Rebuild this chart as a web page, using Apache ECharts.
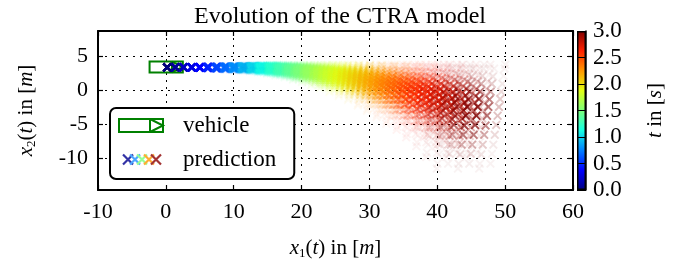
<!DOCTYPE html>
<html>
<head>
    <meta charset="utf-8" />
    <title>Evolution of the CTRA model</title>
    <script src="https://cdnjs.cloudflare.com/ajax/libs/echarts/6.0.0/echarts.min.js"></script>
    <style>
        body, html { margin: 0; padding: 0; background: #fff; }
        #chart { width: 681px; height: 268px; }
    </style>
</head>
<body>
<div id="chart"></div>
<script type="text/javascript">
    // time steps of the prediction [s]
    var tSteps = [0.0, 0.1, 0.2, 0.3, 0.4, 0.5, 0.6, 0.7, 0.8, 0.9, 1.0, 1.1, 1.2, 1.3, 1.4, 1.5,
                  1.6, 1.7, 1.8, 1.9, 2.0, 2.1, 2.2, 2.3, 2.4, 2.5, 2.6, 2.7, 2.8, 2.9, 3.0];
    // centre of the predicted cloud
    var meanX = [0.2, 1.4, 2.6, 3.8, 5.0, 6.2, 7.5, 8.8, 10.1, 11.5, 12.9, 14.2, 15.7, 17.1, 18.6, 20.0,
                 21.5, 23.1, 24.6, 26.2, 27.8, 29.4, 31.1, 32.7, 34.4, 36.1, 37.9, 39.6, 41.4, 43.2, 45.1];
    var midY = [3.4, 3.4, 3.4, 3.4, 3.4, 3.4, 3.4, 3.4, 3.4, 3.4, 3.4, 3.35, 3.3, 3.2, 3.1, 2.95,
                2.8, 2.6, 2.4, 2.15, 1.9, 1.6, 1.2, 0.8, 0.4, -0.1, -0.5, -1.0, -1.6, -2.3, -3.0];
    // spread of the cloud: above / below the centre and along the path
    var upSpread = [0, 0, 0.02, 0.04, 0.06, 0.1, 0.13, 0.16, 0.2, 0.25, 0.3, 0.4, 0.5, 0.6, 0.7, 0.85,
                    1.0, 1.2, 1.4, 1.65, 1.9, 2.2, 2.6, 3.0, 3.4, 3.9, 4.3, 4.8, 5.4, 6.1, 6.8];
    var downSpread = [0, 0.01, 0.03, 0.06, 0.1, 0.15, 0.22, 0.3, 0.38, 0.47, 0.57, 0.7, 0.85, 1.0, 1.2, 1.4,
                      1.6, 1.85, 2.1, 2.4, 2.7, 3.0, 3.4, 3.8, 4.3, 4.8, 5.3, 5.9, 6.6, 7.5, 8.5];
    var lonSpread = [0, 0, 0.02, 0.05, 0.08, 0.12, 0.17, 0.23, 0.3, 0.38, 0.47, 0.57, 0.68, 0.8, 0.93, 1.07,
                     1.22, 1.38, 1.55, 1.73, 1.92, 2.1, 2.3, 2.5, 2.7, 2.9, 3.1, 3.3, 3.5, 3.7, 3.9];
    // vehicle: centre x, centre y, length, width, nose length
    var vehicleX = [0.05];
    var vehicleY = [3.45];
    var vehicleLen = [4.9];
    var vehicleWid = [1.6];
    var vehicleNose = [1.6];

    var xTicks = [-10, 0, 10, 20, 30, 40, 50, 60];
    var yTicks = [-10, -5, 0, 5];
    var cbTicks = [0.0, 0.5, 1.0, 1.5, 2.0, 2.5, 3.0];

    var jet = ['#000080', '#0000ff', '#0080ff', '#14ffe2', '#7bff7b', '#e2ff14', '#ff9700', '#ff2100', '#800000'];
    var FONT = "'Liberation Serif', 'DejaVu Serif', serif";

    // sampling pattern used to draw the cloud
    var latFrac = [-1, -0.83, -0.67, -0.5, -0.33, -0.17, 0, 0.17, 0.33, 0.5, 0.67, 0.83, 1];
    var lonFrac = [-1, -0.6, -0.2, 0.2, 0.6, 1];

    var cloud = [];
    for (var i = 0; i < tSteps.length; i++) {
        for (var a = 0; a < lonFrac.length; a++) {
            for (var b = 0; b < latFrac.length; b++) {
                var f = latFrac[b] + (a % 2 ? 0.085 : -0.085);
                f = Math.max(-1, Math.min(1, f));
                var g = lonFrac[a];
                var dy = f >= 0 ? f * upSpread[i] : f * downSpread[i];
                var y = midY[i] + dy;
                var x = meanX[i] + g * lonSpread[i] + 0.15 * dy;
                var op = 0.9 * Math.exp(-3.0 * f * f) * Math.exp(-1.3 * g * g);
                cloud.push({ value: [x, y, tSteps[i]], itemStyle: { opacity: Math.max(op, 0.05) } });
            }
        }
    }

    var vehicleData = vehicleX.map(function (v, k) {
        return [v, vehicleY[k], vehicleLen[k], vehicleWid[k], vehicleNose[k]];
    });

    var xPath = 'path://M0,1.5L1.5,0L5,3.5L8.5,0L10,1.5L6.5,5L10,8.5L8.5,10L5,6.5L1.5,10L0,8.5L3.5,5Z';

    function svgIcon(svg) {
        return 'image://data:image/svg+xml;charset=utf-8,' + encodeURIComponent(svg);
    }
    var vehIcon = svgIcon("<svg xmlns='http://www.w3.org/2000/svg' width='60' height='15' viewBox='0 0 60 15'>" +
        "<rect x='1' y='1' width='44' height='13' fill='none' stroke='#008000' stroke-width='2'/>" +
        "<line x1='32' y1='1' x2='32' y2='14' stroke='#008000' stroke-width='2'/>" +
        "<polyline points='32,1 45,7.5 32,14' fill='none' stroke='#008000' stroke-width='2'/></svg>");
    var predCols = ['#00008f', '#1e90ff', '#7bff7b', '#ff9700', '#8b0000'];
    var predX = [10, 17, 24, 31, 38];
    var predSvg = "<svg xmlns='http://www.w3.org/2000/svg' width='60' height='15' viewBox='0 0 60 15'>";
    predX.forEach(function (c, k) {
        predSvg += "<path d='M" + (c - 5) + ",2.5L" + (c + 5) + ",12.5M" + (c + 5) + ",2.5L" + (c - 5) +
            ",12.5' stroke='" + predCols[k] + "' stroke-width='2.2' fill='none'/>";
    });
    predSvg += '</svg>';
    var predIcon = svgIcon(predSvg);

    var chart = echarts.init(document.getElementById('chart'));
    var tickStyle = { show: true, inside: true, length: 5, lineStyle: { color: '#000', width: 1.2 } };
    var lineStyle = { show: true, onZero: false, lineStyle: { color: '#000', width: 2 } };
    var gridLine = { show: true, lineStyle: { color: '#000', width: 1, type: [2, 5] } };
    var rich = {
        i: { fontFamily: FONT, fontSize: 21, fontStyle: 'italic', lineHeight: 24, verticalAlign: 'middle' },
        n: { fontFamily: FONT, fontSize: 21, lineHeight: 24, verticalAlign: 'middle' },
        s: { fontFamily: FONT, fontSize: 13, lineHeight: 13, verticalAlign: 'bottom' }
    };

    var option = {
        animation: false,
        title: {
            text: 'Evolution of the CTRA model',
            left: 335,
            textAlign: 'center',
            top: 0,
            textStyle: { fontFamily: FONT, fontSize: 24, fontWeight: 'normal', color: '#000' }
        },
        legend: {
            data: [{ name: 'vehicle', icon: vehIcon }, { name: 'prediction', icon: predIcon }],
            selectedMode: false,
            orient: 'vertical',
            left: 110,
            top: 108,
            padding: [6, 18, 8, 8],
            itemGap: 11,
            itemWidth: 60,
            itemHeight: 15,
            backgroundColor: '#fff',
            borderColor: '#000',
            borderWidth: 2,
            borderRadius: 6,
            z: 10,
            textStyle: { fontFamily: FONT, fontSize: 23, color: '#000', lineHeight: 22 }
        },
        visualMap: {
            type: 'continuous',
            show: false,
            min: 0,
            max: 3,
            dimension: 2,
            seriesIndex: 1,
            inRange: { color: jet }
        },
        grid: [
            { left: 98, right: 108, top: 31, bottom: 78 },
            { left: 577, width: 9, top: 31, height: 159 }
        ],
        xAxis: [
            {
                gridIndex: 0, type: 'value', min: -10, max: 60, interval: 10,
                axisLine: lineStyle, axisTick: tickStyle, splitLine: gridLine,
                axisLabel: {
                    fontFamily: FONT, fontSize: 22, color: '#000', margin: 11,
                    customValues: xTicks
                },
                name: '{i|x}{s|1}{n|(}{i|t}{n|) in [}{i|m}{n|]}',
                nameLocation: 'middle', nameGap: 46,
                nameTextStyle: { rich: rich }
            },
            {
                gridIndex: 0, type: 'value', min: -10, max: 60, interval: 10, position: 'top',
                axisLine: lineStyle, axisTick: tickStyle, splitLine: { show: false },
                axisLabel: { show: false }
            },
            { gridIndex: 1, type: 'category', data: [''], show: false }
        ],
        yAxis: [
            {
                gridIndex: 0, type: 'value', min: -14.65, max: 8.75,
                axisLine: lineStyle,
                axisTick: Object.assign({ customValues: yTicks }, tickStyle),
                splitLine: gridLine,
                axisLabel: {
                    fontFamily: FONT, fontSize: 22, color: '#000', margin: 10,
                    customValues: yTicks
                },
                name: '{i|x}{s|2}{n|(}{i|t}{n|) in [}{i|m}{n|]}',
                nameLocation: 'middle', nameGap: 60, nameRotate: 90,
                nameTextStyle: { rich: rich }
            },
            {
                gridIndex: 0, type: 'value', min: -14.65, max: 8.75, position: 'right',
                axisLine: lineStyle,
                axisTick: Object.assign({ customValues: yTicks }, tickStyle),
                splitLine: { show: false },
                axisLabel: { show: false }
            },
            {
                gridIndex: 1, type: 'value', min: 0, max: 3, interval: 0.5, position: 'right', z: 5,
                axisLine: { show: true, lineStyle: { color: '#000', width: 1.5 } },
                axisTick: { show: true, inside: true, length: 9, lineStyle: { color: '#000', width: 1 } },
                splitLine: { show: false },
                axisLabel: {
                    fontFamily: FONT, fontSize: 23, color: '#000', margin: 7,
                    customValues: cbTicks,
                    formatter: function (v) { return v.toFixed(1); }
                },
                name: '{i|t}{n| in [}{i|s}{n|]}',
                nameLocation: 'middle', nameGap: 57, nameRotate: 90,
                nameTextStyle: { rich: rich }
            }
        ],
        series: [
            {
                name: 'vehicle',
                type: 'custom',
                xAxisIndex: 0, yAxisIndex: 0,
                z: 1,
                data: vehicleData,
                renderItem: function (params, api) {
                    var cx = api.value(0), cy = api.value(1), L = api.value(2), W = api.value(3), N = api.value(4);
                    var p1 = api.coord([cx - L / 2, cy + W / 2]);
                    var p2 = api.coord([cx + L / 2, cy - W / 2]);
                    var pm = api.coord([cx + L / 2 - N, cy]);
                    var st = { stroke: '#008000', lineWidth: 2, fill: 'none' };
                    return {
                        type: 'group',
                        children: [
                            { type: 'rect', shape: { x: p1[0], y: p1[1], width: p2[0] - p1[0], height: p2[1] - p1[1] }, style: st },
                            { type: 'line', shape: { x1: pm[0], y1: p1[1], x2: pm[0], y2: p2[1] }, style: st },
                            { type: 'polyline', shape: { points: [[pm[0], p1[1]], [p2[0], pm[1]], [pm[0], p2[1]]] }, style: st }
                        ]
                    };
                }
            },
            {
                name: 'prediction',
                type: 'scatter',
                xAxisIndex: 0, yAxisIndex: 0,
                z: 2,
                symbol: xPath,
                symbolSize: 9,
                large: false,
                progressive: 0,
                data: cloud
            },
            {
                name: 'colorbar',
                type: 'bar',
                xAxisIndex: 2, yAxisIndex: 2,
                barWidth: '100%',
                data: [3],
                itemStyle: {
                    borderColor: '#000',
                    borderWidth: 1.5,
                    color: new echarts.graphic.LinearGradient(0, 1, 0, 0, jet.map(function (c, k) {
                        return { offset: k / (jet.length - 1), color: c };
                    }))
                }
            }
        ]
    };
    chart.setOption(option);
</script>
</body>
</html>
